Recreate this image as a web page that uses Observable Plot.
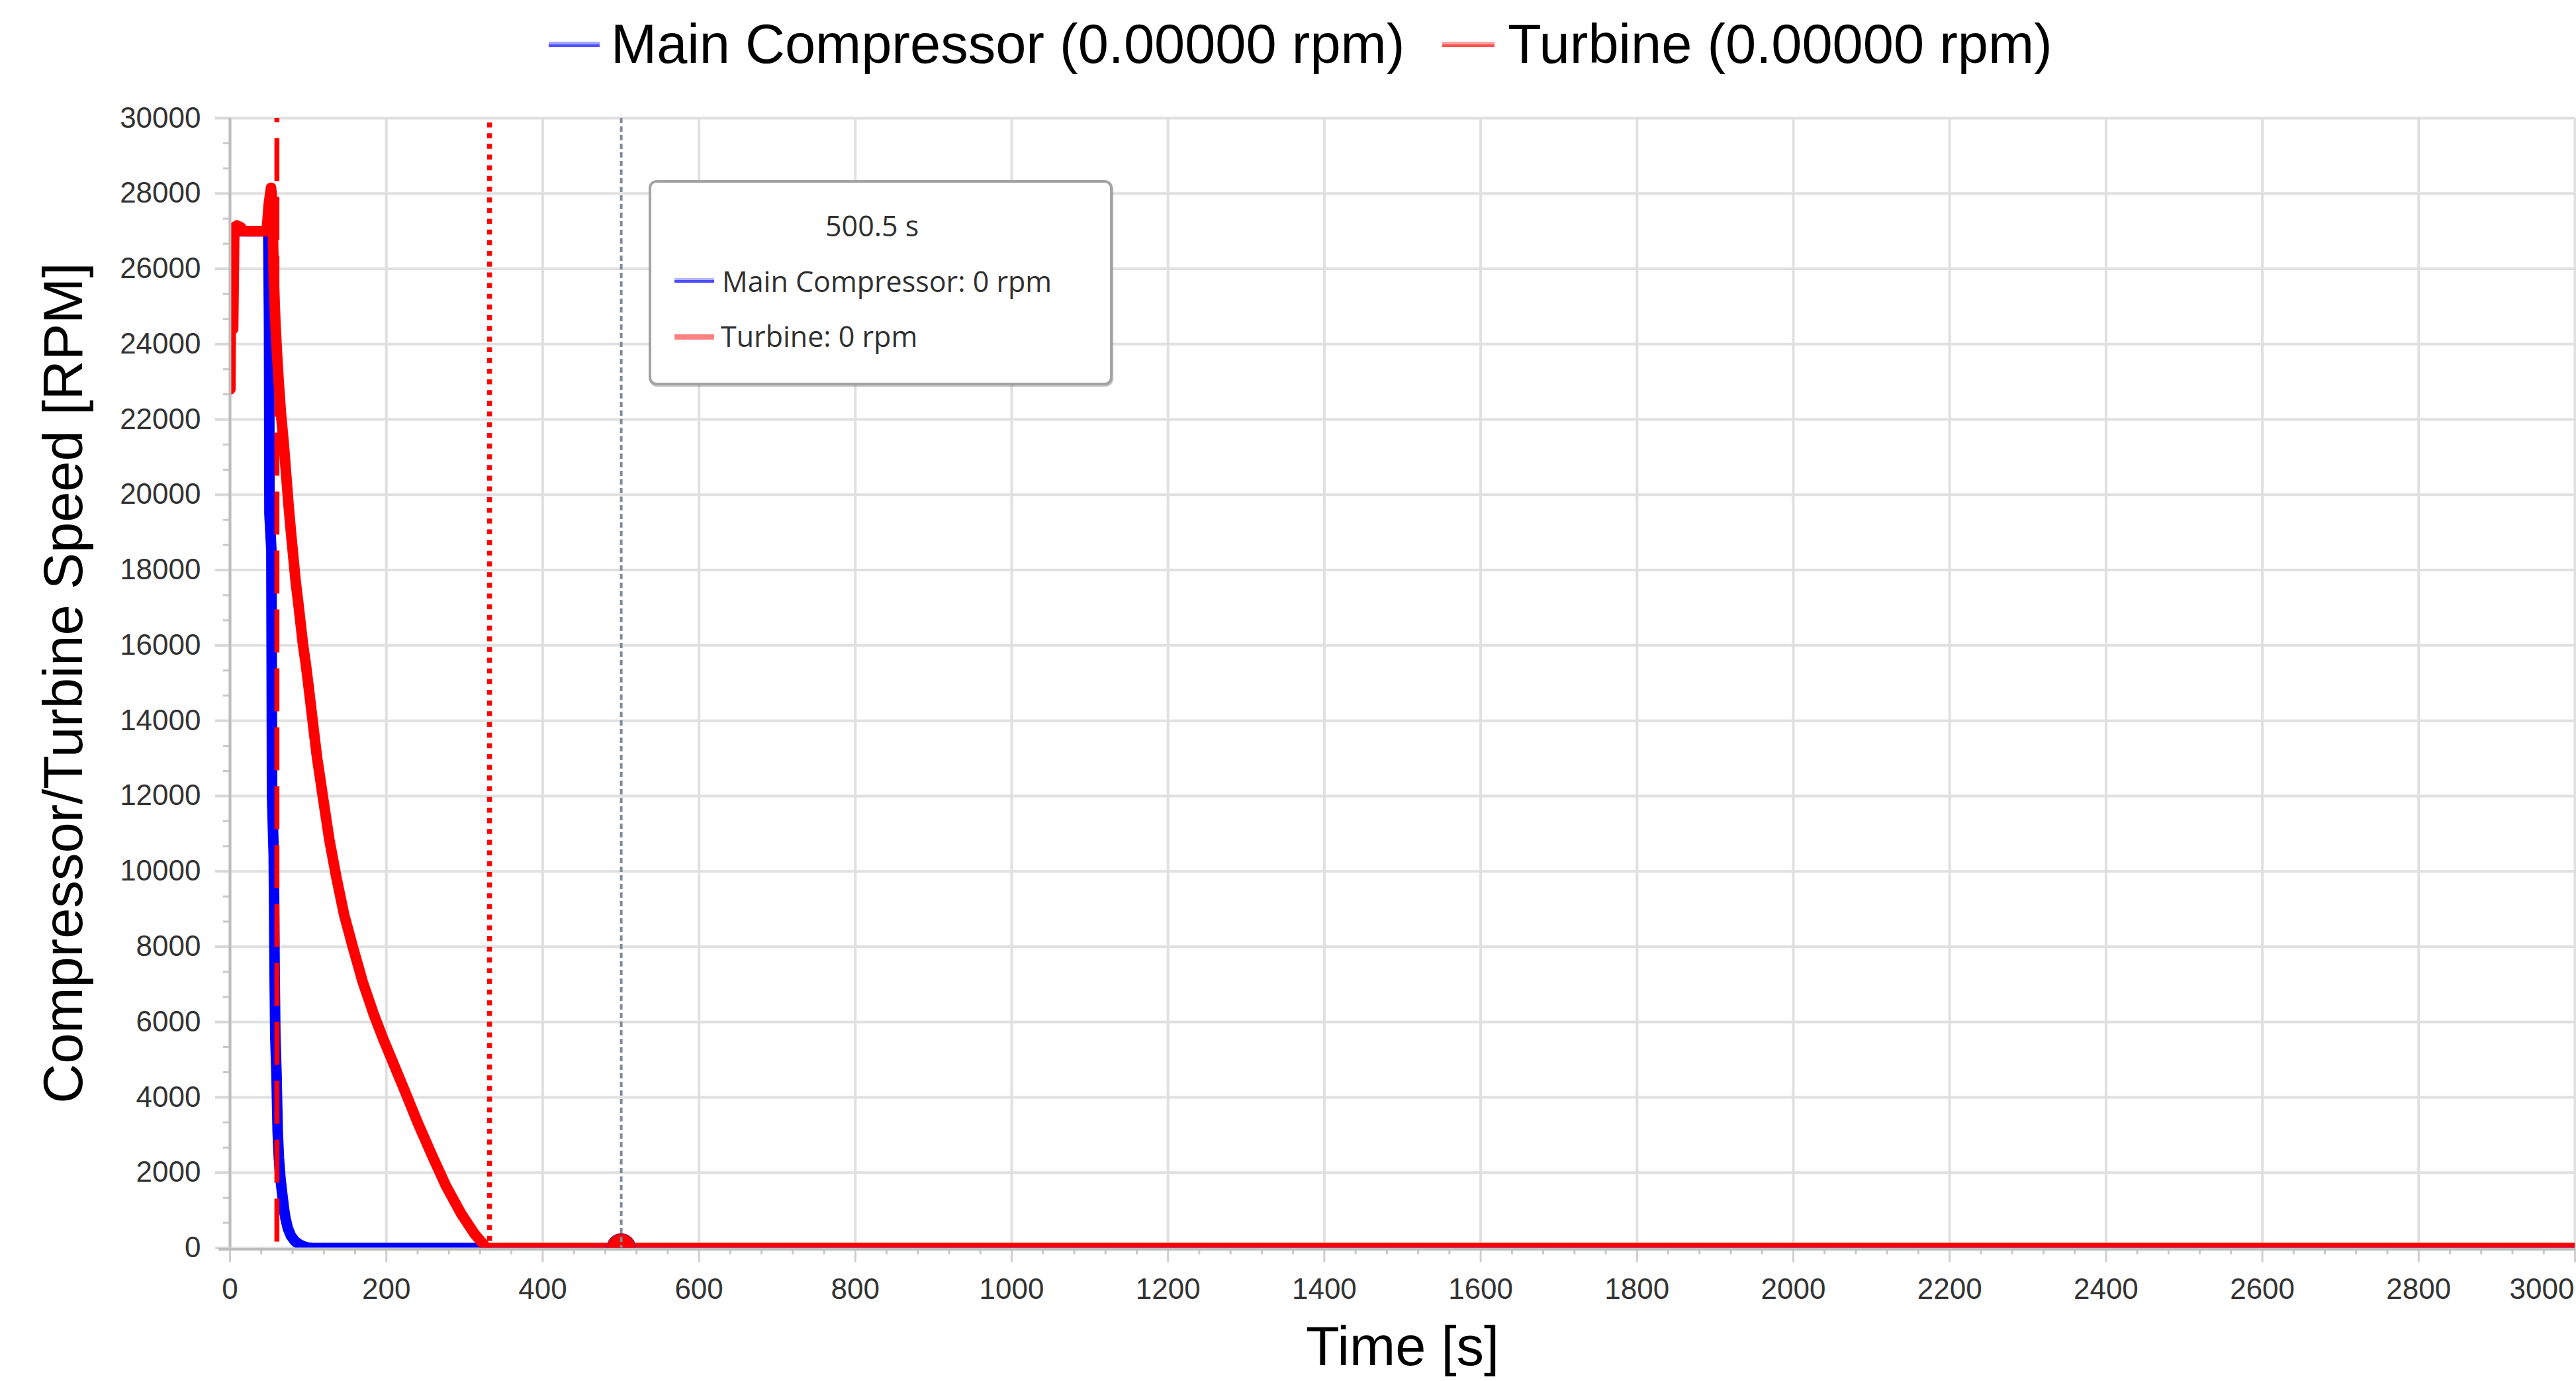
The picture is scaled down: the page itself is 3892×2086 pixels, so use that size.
<!DOCTYPE html>
<html>
<head>
<meta charset="utf-8">
<script src="https://cdn.jsdelivr.net/npm/d3@7"></script>
<script src="https://cdn.jsdelivr.net/npm/@observablehq/plot@0.6"></script>
<style>
  html, body { margin: 0; padding: 0; background: #fff; overflow: hidden; width: 3892px; height: 2086px; }
  #wrap { position: relative; width: 3892px; height: 2086px; }
  #legend { position: relative; width: 3892px; height: 130px; font-family: "Liberation Sans", Arial, sans-serif; font-size: 83px; color: #000; }
  #legend .sw { position: absolute; top: 63px; height: 8px; }
  #legend .lab { position: absolute; top: 24.7px; line-height: 83px; white-space: pre; }
  #chart svg { display: block; }
  #tip { position: absolute; left: 980px; top: 272px; width: 701px; height: 310px; box-sizing: border-box;
         border: 4px solid #a3a3a3; border-radius: 12px; background: #fff; box-shadow: 1px 2px 1px rgba(0,0,0,0.25);
         font-family: "Open Sans", "Noto Sans", sans-serif; font-size: 43px; color: #303030; }
  #tip .t { position: absolute; line-height: 43px; white-space: pre; }
  #tip .sw { position: absolute; left: 35px; width: 60px; }
</style>
</head>
<body>
<div id="wrap">
  <div id="legend"></div>
  <div id="chart"></div>
  <div id="tip"></div>
</div>
<script>
// ---------- data ----------
const seriesNames = ["Main Compressor", "Turbine"];
const legendLabels = ["Main Compressor (0.00000 rpm)", "Turbine (0.00000 rpm)"];
const seriesColors = ["#0000ff", "#ff0000"];

// Main Compressor speed [rpm] vs time [s]
const compressorTime = [10, 49, 50, 50.5, 53, 53.8, 56, 57, 58, 59.5, 61, 62.5, 64.5, 67, 69, 71, 74, 78, 83, 89, 95, 100, 106, 3000];
const compressorRpm  = [27000, 27000, 24500, 19500, 18500, 12000, 10400, 7500, 5600, 4600, 3100, 2400, 1850, 1400, 1050, 780, 520, 320, 180, 90, 35, 10, 0, 0];

// Turbine speed [rpm] vs time [s]
const turbineTime = [0.5, 1.5, 4, 5.5, 9, 14, 17, 47, 49.5, 52.5, 54.5, 55, 56, 58, 60, 62, 65, 69, 72, 75, 78, 81, 84, 87.5, 90.5, 93.5, 97, 100, 104, 108, 111.5, 115.5, 119, 127, 136, 146, 157, 170, 184, 196, 208, 222, 240, 258, 276, 296, 313, 327, 329, 3000];
const turbineRpm  = [22800, 27000, 24400, 27100, 27150, 27100, 27000, 27000, 27700, 28150, 27700, 26800, 25700, 24600, 23800, 23100, 22200, 21300, 20500, 19700, 19000, 18350, 17700, 17100, 16550, 16000, 15500, 15000, 14300, 13600, 13000, 12450, 11950, 10850, 9850, 8850, 8000, 7050, 6200, 5550, 4950, 4250, 3330, 2480, 1660, 900, 370, 30, 0, 0];

const eventTimes = [60, 332];          // red dashed, red dotted markers [s]
const cursorTime = [500.5];            // cursor position [s]
const cursorValues = [0, 0];           // readout at cursor [rpm]

const xTickValues = [0, 200, 400, 600, 800, 1000, 1200, 1400, 1600, 1800, 2000, 2200, 2400, 2600, 2800, 3000];
const yTickValues = [0, 2000, 4000, 6000, 8000, 10000, 12000, 14000, 16000, 18000, 20000, 22000, 24000, 26000, 28000, 30000];
const xLabel = "Time [s]";
const yLabel = "Compressor/Turbine Speed [RPM]";

// ---------- legend ----------
const legend = document.getElementById("legend");
const legendSwatches = [
  {left: 829, width: 77, bg: "linear-gradient(#a4a4ff 50%, #5252ff 50%)"},
  {left: 2179, width: 79, bg: "linear-gradient(#ffa4a4 50%, #ff5252 50%)"}
];
const legendTextLeft = [923, 2278];
legendLabels.forEach((lab, i) => {
  const sw = document.createElement("div");
  sw.className = "sw";
  sw.style.left = legendSwatches[i].left + "px";
  sw.style.width = legendSwatches[i].width + "px";
  sw.style.background = legendSwatches[i].bg;
  legend.appendChild(sw);
  const t = document.createElement("div");
  t.className = "lab";
  t.style.left = legendTextLeft[i] + "px";
  t.textContent = lab;
  legend.appendChild(t);
});

// ---------- chart ----------
const compressor = compressorTime.map((t, i) => ({t, rpm: compressorRpm[i]}));
const turbine = turbineTime.map((t, i) => ({t, rpm: turbineRpm[i]}));
const minorX = d3.range(0, 3000, 40).filter(v => v % 200 !== 0);
const minorY = d3.range(0, 30000, 2000 / 3).filter((v, i) => i % 3 !== 0);
const FONT = "'Liberation Sans', Arial, sans-serif";

const chart = Plot.plot({
  width: 3892,
  height: 1956,
  marginLeft: 347,
  marginRight: 2,
  marginTop: 48,
  marginBottom: 201.5,
  x: {domain: [0, 3000]},
  y: {domain: [0, 30000]},
  style: {fontFamily: FONT, background: "transparent", overflow: "visible", color: "#333"},
  marks: [
    Plot.gridX({ticks: xTickValues, stroke: "#e0e0e0", strokeWidth: 4, strokeOpacity: 1}),
    Plot.gridY({ticks: yTickValues, stroke: "#e0e0e0", strokeWidth: 4, strokeOpacity: 1}),
    Plot.axisY({ticks: yTickValues, tickSize: 22, tickPadding: 22, stroke: "#d8d8d8", strokeWidth: 4,
                fill: "#333", fontSize: 44, tickFormat: d => String(d), label: null}),
    Plot.axisY({ticks: minorY, tickSize: 10, stroke: "#c8c8c8", strokeWidth: 3, fill: "none",
                tickFormat: () => "", label: null}),
    Plot.axisX({ticks: xTickValues, tickSize: 22, tickPadding: 24, stroke: "#cfcfcf", strokeWidth: 3,
                fill: "#333", fontSize: 44, tickFormat: d => d === 3000 ? "" : String(d), label: null}),
    Plot.axisX({ticks: minorX, tickSize: 10, stroke: "#c8c8c8", strokeWidth: 3, fill: "none",
                tickFormat: () => "", label: null}),
    Plot.text(xTickValues.slice(-1), {x: d => d, frameAnchor: "bottom", dy: 46, dx: -50, lineAnchor: "top",
                text: d => String(d), fontSize: 44, fill: "#333"}),
    Plot.line(compressor, {x: "t", y: "rpm", stroke: seriesColors[0], strokeWidth: 16, clip: true}),
    Plot.line(turbine, {x: "t", y: "rpm", stroke: seriesColors[1], strokeWidth: 16, clip: true}),
    Plot.ruleX([eventTimes[0]], {stroke: "#ff0000", strokeWidth: 7.5, strokeDasharray: "65,24", strokeDashoffset: 58.6}),
    Plot.ruleX([eventTimes[1]], {stroke: "#ff0000", strokeWidth: 7.5, strokeDasharray: "7.5,8.67", strokeDashoffset: 9.17}),
    Plot.dot(cursorTime.map(t => ({t, rpm: cursorValues[1]})), {x: "t", y: "rpm", r: 21, fill: "#ff0000",
                stroke: "#b8103a", strokeWidth: 2.5, clip: true}),
    Plot.ruleX(cursorTime, {stroke: "#7d8b99", strokeWidth: 4, strokeDasharray: "8,5"}),
    Plot.ruleY([0], {stroke: "#bdbdbd", strokeWidth: 4, dy: 2, insetLeft: -17}),
    Plot.ruleX([0], {stroke: "#bdbdbd", strokeWidth: 4}),
    Plot.text([yLabel], {frameAnchor: "left", rotate: -90, dx: -250, textAnchor: "middle", lineAnchor: "middle",
                fontSize: 83, fill: "#000", text: d => d}),
    Plot.text([xLabel], {frameAnchor: "bottom", dy: 150.5, textAnchor: "middle", lineAnchor: "middle",
                fontSize: 83, fill: "#000", text: d => d})
  ]
});
document.getElementById("chart").appendChild(chart);

// ---------- cursor readout box ----------
const tip = document.getElementById("tip");
const tipItems = [
  {cls: "t", left: 263, top: 43, text: `${cursorTime[0]} s`},
  {cls: "sw", top: 144, h: 7, bg: "linear-gradient(#b4b4ff 50%, #4a4aff 50%)"},
  {cls: "t", left: 107, top: 127, text: `${seriesNames[0]}: ${cursorValues[0]} rpm`},
  {cls: "sw", top: 229, h: 8, bg: "#ff8080"},
  {cls: "t", left: 105, top: 210, text: `${seriesNames[1]}: ${cursorValues[1]} rpm`}
];
tipItems.forEach(it => {
  const el = document.createElement("div");
  el.className = it.cls;
  el.style.top = it.top + "px";
  if (it.cls === "t") { el.style.left = it.left + "px"; el.textContent = it.text; }
  else { el.style.height = it.h + "px"; el.style.background = it.bg; }
  tip.appendChild(el);
});
</script>
</body>
</html>
